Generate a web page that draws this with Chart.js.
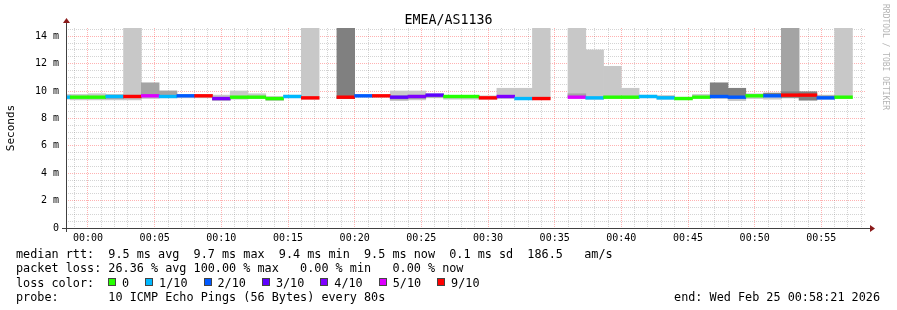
<!DOCTYPE html>
<html><head><meta charset="utf-8">
<script src="https://cdn.jsdelivr.net/npm/chart.js@4"></script>
<style>
html,body{margin:0;padding:0;background:#fff;}
#wrap{position:relative;width:897px;height:310px;overflow:hidden;background:#fff;}
#c{position:absolute;left:0;top:0;}
.t{position:absolute;font-family:'DejaVu Sans Mono',monospace;font-size:11.8px;line-height:14px;white-space:pre;color:#000;}
.title{position:absolute;left:0;width:897px;top:12px;text-align:center;font-family:'DejaVu Sans Mono',monospace;font-size:13.3px;line-height:16px;color:#000;}
.rrd{position:absolute;left:881px;top:4px;writing-mode:vertical-rl;font-family:'DejaVu Sans Mono',monospace;font-size:8px;color:#b4b4b4;line-height:8px;}
.box{position:absolute;width:6px;height:6px;border:1px solid #444;}
</style></head>
<body><div id="wrap"><canvas id="c" width="897" height="310"></canvas>
<div class="title" id="title"></div>
<div class="rrd" id="rrd"></div>
<div id="legend"></div>
</div>
<script>
// ---------------- data ----------------
const chartTitle = 'EMEA/AS1136';
const yAxisTitle = 'Seconds';
const watermark = 'RRDTOOL / TOBI OETIKER';
const graphEnd = '00:58:21';
const graphSpanMinutes = 60;
const stepSeconds = 80;

// end time of each 80 s step
const stepEnds = ['23:58:40','00:00:00','00:01:20','00:02:40','00:04:00','00:05:20','00:06:40','00:08:00','00:09:20','00:10:40',
  '00:12:00','00:13:20','00:14:40','00:16:00','00:17:20','00:18:40','00:20:00','00:21:20','00:22:40','00:24:00',
  '00:25:20','00:26:40','00:28:00','00:29:20','00:30:40','00:32:00','00:33:20','00:34:40','00:36:00','00:37:20',
  '00:38:40','00:40:00','00:41:20','00:42:40','00:44:00','00:45:20','00:46:40','00:48:00','00:49:20','00:50:40',
  '00:52:00','00:53:20','00:54:40','00:56:00','00:57:20'];

// median rtt (ms) per step, null = no answer
const medianRtt = [9.55,9.55,9.55,9.6,9.6,9.65,9.6,9.65,9.65,9.45,
  9.55,9.55,9.45,9.6,9.5,null,9.55,9.65,9.65,9.55,
  9.6,9.7,9.6,9.6,9.5,9.6,9.45,9.45,null,9.55,
  9.5,9.55,9.55,9.6,9.5,9.45,9.55,9.6,9.55,9.65,
  9.65,9.7,9.7,9.5,9.55];

// lost pings out of 10 per step
const lostPings = [1,0,0,1,9,5,1,2,9,4,
  0,0,0,1,9,10,9,2,9,3,
  4,3,0,0,9,4,1,9,10,5,
  1,0,0,1,1,0,0,2,2,0,
  2,9,9,2,0];

// smoke bands [low, high] in ms (outer light, middle, inner dark); 20 = beyond top of graph
const smokeLight = [[9.4,9.75],[9.35,9.75],[9.35,9.8],[9.35,9.75],[9.35,20],[9.45,9.7],[9.5,10.0],[9.5,9.75],[9.5,9.75],[9.3,9.7],
  [9.4,10.0],[9.45,9.8],[9.3,9.6],[9.5,9.7],[9.4,20],null,null,[9.55,9.7],[9.55,9.7],[9.3,10.0],
  [9.35,10.0],[9.5,9.8],[9.4,9.65],[9.4,9.65],[9.4,9.65],[9.45,10.2],[9.4,10.2],[9.4,20],null,[9.5,20],
  [9.4,13.0],[9.45,11.8],[9.45,10.2],[9.5,9.7],[9.4,9.6],[9.4,9.55],[9.5,9.75],[9.45,9.65],[9.3,9.55],[9.45,9.8],
  [9.4,9.6],null,[9.3,9.5],[9.4,9.7],[9.45,20]];
const smokeMid = [null,null,null,[9.45,9.7],[9.5,9.7],[9.55,10.6],[9.55,10.0],null,null,[9.35,9.55],
  null,null,null,null,null,null,null,null,null,[9.4,9.65],
  [9.45,9.7],[9.55,9.75],null,null,null,null,null,null,null,[9.55,9.8],
  null,null,null,null,[9.5,9.65],null,null,null,null,null,
  null,[9.5,20],null,[9.45,9.65],null];
const smokeDark = [null,null,null,null,null,null,null,null,null,null,
  null,null,null,null,null,null,[9.45,20],null,null,null,
  null,null,null,null,null,null,null,null,null,null,
  null,null,null,null,null,null,null,[9.55,10.6],[9.5,10.2],null,
  [9.6,9.85],[9.55,9.95],[9.35,9.95],null,null];

const xTickLabels = ['00:00','00:05','00:10','00:15','00:20','00:25','00:30','00:35','00:40','00:45','00:50','00:55'];
const yTickLabels = ['0','2 m','4 m','6 m','8 m','10 m','12 m','14 m'];
const yMaxMs = 14.6;

const lossThresholds = [0,1,2,3,4,5,9];
const lossLabels = ['0','1/10','2/10','3/10','4/10','5/10','9/10'];
const lossColors = ['#26ff00','#00b8ff','#0059ff','#5e00ff','#7e00ff','#dd00ff','#ff0000'];

const rttSummary = ['9.5 ms avg','9.7 ms max','9.4 ms min','9.5 ms now','0.1 ms sd','186.5   am/s'];
const lossSummary = ['26.36 % avg','100.00 % max','  0.00 % min','  0.00 % now'];
const probeText = '10 ICMP Echo Pings (56 Bytes) every 80s';
const endText = 'end: Wed Feb 25 00:58:21 2026';

// ---------------- helpers ----------------
function toMin(s){ const p = s.split(':').map(Number); let v = p[0]*60 + p[1] + p[2]/60; if (p[0] >= 12) v -= 1440; return v; }
const stepMin = stepSeconds/60;
const centers = stepEnds.map(e => toMin(e) - stepMin/2);
const xMax = toMin(graphEnd);
const xMin = xMax - graphSpanMinutes;
const xTickValues = xTickLabels.map(l => toMin(l + ':00'));
const yTickValues = yTickLabels.map((l,i) => i*2);
const minuteTicks = []; for (let m = Math.ceil(xMin); m <= Math.floor(xMax); m++) minuteTicks.push(m);
const halfMsTicks = []; for (let v = 0; v <= yMaxMs + 1e-9; v += 0.5) halfMsTicks.push(Math.round(v*10)/10);

function lossColor(n){ let c = lossColors[0]; lossThresholds.forEach((t,i)=>{ if (n >= t) c = lossColors[i]; }); return c; }
function bands(arr){ return arr.map((r,i)=> r ? {x: centers[i], y: r} : null).filter(Boolean); }
const medianHalf = 0.1;
const medianData = medianRtt.map((m,i)=> m == null ? null : {x: centers[i], y: [m-medianHalf, m+medianHalf], loss: lostPings[i]}).filter(Boolean);

const minorGrid = 'rgba(128,128,128,0.34)';
const majorGrid = 'rgba(255,0,0,0.30)';
const mono = 'DejaVu Sans Mono';

function barSet(label, data, color, order){
  return {label, data, backgroundColor: color, borderWidth: 0, grouped: false, xAxisID: 'xb', yAxisID: 'y',
    categoryPercentage: 1, barPercentage: 1, order};
}

const axisDeco = {
  id: 'axisDeco',
  afterDraw(chart){
    const {ctx, chartArea: a} = chart;
    ctx.save();
    ctx.strokeStyle = '#404040'; ctx.lineWidth = 1;
    ctx.beginPath();
    ctx.moveTo(a.left - 4, a.bottom + 0.5); ctx.lineTo(a.right + 5, a.bottom + 0.5);
    ctx.moveTo(a.left + 0.5, a.bottom + 4); ctx.lineTo(a.left + 0.5, a.top - 6);
    ctx.stroke();
    ctx.fillStyle = '#8b1a1a';
    ctx.beginPath();
    ctx.moveTo(a.right + 4, a.bottom - 3); ctx.lineTo(a.right + 9, a.bottom + 0.5); ctx.lineTo(a.right + 4, a.bottom + 4); ctx.closePath(); ctx.fill();
    ctx.beginPath();
    ctx.moveTo(a.left - 3, a.top - 5); ctx.lineTo(a.left + 0.5, a.top - 10); ctx.lineTo(a.left + 4, a.top - 5); ctx.closePath(); ctx.fill();
    ctx.restore();
  }
};

new Chart(document.getElementById('c'), {
  type: 'bar',
  data: { datasets: [
    Object.assign(barSet('median rtt', medianData, '#000', 0), {backgroundColor: ctx => ctx.raw ? lossColor(ctx.raw.loss) : 'rgba(0,0,0,0)'}),
    barSet('smoke inner', bands(smokeDark), '#808080', 1),
    barSet('smoke middle', bands(smokeMid), '#a4a4a4', 2),
    barSet('smoke outer', bands(smokeLight), '#c8c8c8', 3)
  ]},
  plugins: [axisDeco],
  options: {
    responsive: false, animation: false, devicePixelRatio: 1,
    layout: { padding: {left: 0, right: 31, top: 28, bottom: 0}, autoPadding: false },
    plugins: { legend: {display: false}, tooltip: {enabled: false}, title: {display: false} },
    scales: {
      xb: { type: 'linear', display: false, min: xMin, max: xMax, offset: false, ticks: {stepSize: 30, includeBounds: false} },
      x: { type: 'linear', position: 'bottom', min: xMin, max: xMax, offset: false, z: 1,
        afterBuildTicks: s => { s.ticks = minuteTicks.map(v => ({value: v})); },
        afterFit: s => { s.height = 310 - 228; },
        grid: { drawTicks: false, offset: false, lineWidth: 1,
          color: c => (c.tick && xTickValues.includes(c.tick.value)) ? majorGrid : minorGrid },
        border: { display: false, dash: [1,1] },
        ticks: { autoSkip: false, maxRotation: 0, minRotation: 0, padding: 4, color: '#000',
          font: {family: mono, size: 10},
          callback: v => { const i = xTickValues.indexOf(v); return i >= 0 ? xTickLabels[i] : ''; } }
      },
      y: { type: 'linear', min: 0, max: yMaxMs, z: 1,
        afterBuildTicks: s => { s.ticks = halfMsTicks.map(v => ({value: v})); },
        afterFit: s => { s.width = 66; },
        title: { display: true, text: yAxisTitle, color: '#000', font: {family: mono, size: 11}, padding: {top: 5, bottom: 0} },
        grid: { drawTicks: false, lineWidth: 1,
          color: c => (c.tick && yTickValues.includes(c.tick.value)) ? majorGrid : minorGrid },
        border: { display: false, dash: [1,1] },
        ticks: { autoSkip: false, padding: 7, color: '#000', font: {family: mono, size: 10},
          callback: v => { const i = yTickValues.indexOf(v); return i >= 0 ? yTickLabels[i] : ''; } }
      }
    }
  }
});

// ---------------- texts ----------------
document.getElementById('title').textContent = chartTitle;
document.getElementById('rrd').textContent = watermark;
const leg = document.getElementById('legend');
function addText(x, top, s, right){
  const d = document.createElement('div'); d.className = 't'; d.textContent = s; d.style.top = top + 'px';
  if (right) { d.style.right = x + 'px'; } else { d.style.left = x + 'px'; }
  leg.appendChild(d); return d;
}
addText(16, 247, 'median rtt:  ' + rttSummary.join('  '));
addText(16, 261, 'packet loss: ' + lossSummary.join(' '));
addText(16, 275.5, 'loss color:');
let bx = 108;
lossLabels.forEach((lab, i) => {
  const b = document.createElement('div'); b.className = 'box';
  b.style.left = bx + 'px'; b.style.top = '278px'; b.style.background = lossColors[i];
  leg.appendChild(b);
  addText(bx + 14, 275.5, lab);
  bx += 14 + lab.length * 7.1 + 16;
});
addText(16, 289.5, 'probe:       ' + probeText);
addText(17, 289.5, endText, true);
</script>
</body></html>
